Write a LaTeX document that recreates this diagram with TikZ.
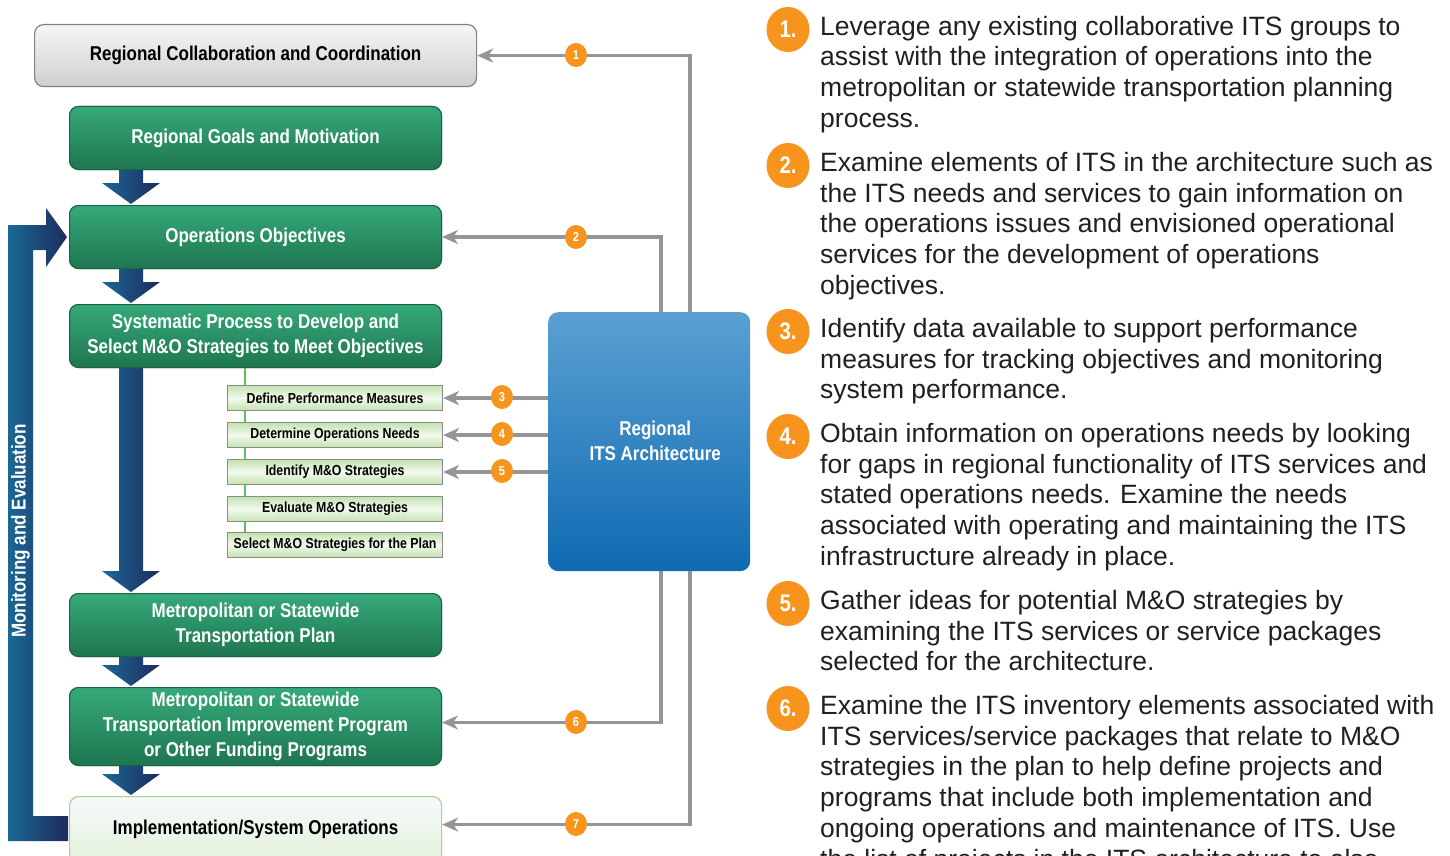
\documentclass[tikz,border=0pt]{standalone}
\usepackage{fontspec}
\setmainfont{Liberation Sans}
\newfontfamily\cond{Liberation Sans}[FakeStretch=0.85]
\usetikzlibrary{arrows.meta,calc,shapes.geometric}
\definecolor{txt}{HTML}{231F20}
\definecolor{greytop}{HTML}{F6F6F7}
\definecolor{greybot}{HTML}{CDCFD1}
\definecolor{greyedge}{HTML}{808285}
\definecolor{grtop}{HTML}{36A97A}
\definecolor{grbot}{HTML}{1E7650}
\definecolor{gredge}{HTML}{1B6443}
\definecolor{subg}{HTML}{C3E2AE}
\definecolor{subw}{HTML}{F2F9EE}
\definecolor{subedge}{HTML}{8A8C8E}
\definecolor{imptop}{HTML}{F5FAFD}
\definecolor{impbot}{HTML}{E2F0D4}
\definecolor{impedge}{HTML}{A9D48C}
\definecolor{bltop}{HTML}{5AA0D2}
\definecolor{blbot}{HTML}{0F6AB2}
\definecolor{conngrey}{HTML}{939598}
\definecolor{orng}{HTML}{F7941D}
\definecolor{arrL}{HTML}{1B6894}
\definecolor{arrR}{HTML}{1E2B5D}
\definecolor{subline}{HTML}{5DC05D}
\newcommand\myblockarrow[2]{%
  \path[blockarr] let \p1=(#1.south), \p2=(#2.north) in
    (119pt,\y1+2pt) -- (143pt,\y1+2pt) -- (143pt,\y2+22pt) -- (160pt,\y2+22pt)
    -- (131pt,\y2+1pt) -- (102pt,\y2+22pt) -- (119pt,\y2+22pt) -- cycle;}
\newcommand\firststrut{\rule{0pt}{22pt}}
\begin{document}
\begin{tikzpicture}[x=1pt,y=-1pt,
  boxfont/.style={font=\cond\bfseries\fontsize{20}{25}\selectfont},
  greybox/.style={boxfont, draw=greyedge, line width=1.2pt, rounded corners=9pt,
     top color=greytop, bottom color=greybot, text=black, anchor=north west,
     minimum width=442pt, minimum height=62pt, inner sep=0pt, align=center},
  greenbox/.style={boxfont, draw=gredge, line width=1pt, rounded corners=9pt,
     top color=grtop, bottom color=grbot, text=white, anchor=north west,
     minimum width=372pt, inner sep=0pt, align=center},
  impbox/.style={boxfont, draw=impedge, line width=1.2pt, rounded corners=9pt,
     top color=imptop, bottom color=impbot, text=black, anchor=north west,
     minimum width=372pt, minimum height=74pt, inner sep=0pt, align=center},
  subbox/.style={font=\cond\bfseries\fontsize{14.5}{17}\selectfont, draw=subedge, line width=1.1pt,
     shading=axis, top color=subg, bottom color=subg, middle color=subw, text=black,
     anchor=north west, minimum width=215pt, minimum height=25pt, inner sep=0pt},
  itsbox/.style={rounded corners=10pt, top color=bltop, bottom color=blbot,
     anchor=north west, minimum width=202pt, minimum height=259pt, inner sep=0pt},
  blockarr/.style={left color=arrL, right color=arrR},
  conn/.style={draw=conngrey, line width=3.5pt,
     -{Stealth[length=16pt,width=14pt,inset=5pt]}},
  badge/.style={ellipse, fill=orng, text=white, inner sep=0pt, minimum width=22pt,
     minimum height=24pt, font=\cond\bfseries\fontsize{13}{13}\selectfont},
  bigbadge/.style={ellipse, fill=orng, text=white, inner sep=0pt, minimum width=43pt,
     minimum height=45pt, font=\cond\bfseries\fontsize{24}{24}\selectfont},
  item/.style={anchor=north west, align=left, text=txt, inner sep=0pt,
     font=\fontsize{26.5}{30.8}\selectfont}
]
\useasboundingbox (0,0) rectangle (1450,856);
\clip (0,0) rectangle (1450,856);
\fill[white] (0,0) rectangle (1450,856);

% ---- left column boxes ----
\path (34,24) node[greybox] (rcc) {Regional Collaboration and Coordination};
\path (69,106) node[greenbox, minimum height=63pt] (rgm) {Regional Goals and Motivation};
\path (69,205) node[greenbox, minimum height=63pt] (oo) {Operations Objectives};
\path (69,304) node[greenbox, minimum height=63pt] (sys) {Systematic Process to Develop and\\Select M\&O Strategies to Meet Objectives};
\path (69,593) node[greenbox, minimum height=63pt] (plan) {Metropolitan or Statewide\\Transportation Plan};
\path (69,687) node[greenbox, minimum height=78pt] (tip) {Metropolitan or Statewide\\Transportation Improvement Program\\or Other Funding Programs};

% green link line behind the sub boxes
\draw[subline, line width=2pt] ([xshift=176pt]sys.south west) -- (245,540);

\path (227,385) node[subbox] (s1) {Define Performance Measures};
\path (227,422) node[subbox] (s2) {Determine Operations Needs};
\path (227,459) node[subbox] (s3) {Identify M\&O Strategies};
\path (227,496) node[subbox] (s4) {Evaluate M\&O Strategies};
\path (227,532) node[subbox] (s5) {Select M\&O Strategies for the Plan};

% ---- monitoring and evaluation loop ----
\path[blockarr] (8,841) -- (68,841) -- (68,816) -- (33,816) -- (33,250) -- (46,250)
   -- (46,267) -- ([xshift=-2pt]oo.west) -- (46,208) -- (46,225) -- (8,225) -- cycle;
\path (69,796) node[impbox] (impl) {\raisebox{13pt}{Implementation/System Operations}};
\node[rotate=90, text=white, font=\cond\bfseries\fontsize{20}{25}\selectfont] (mon) at (20.5,531) {Monitoring and Evaluation};

% ---- block arrows ----
\myblockarrow{rgm}{oo}
\myblockarrow{oo}{sys}
\myblockarrow{sys}{plan}
\myblockarrow{plan}{tip}
\myblockarrow{tip}{impl}

% boxes again over the shaft tops
\path (69,106) node[greenbox, minimum height=63pt] {Regional Goals and Motivation};
\path (69,205) node[greenbox, minimum height=63pt] {Operations Objectives};
\path (69,304) node[greenbox, minimum height=63pt] {Systematic Process to Develop and\\Select M\&O Strategies to Meet Objectives};
\path (69,593) node[greenbox, minimum height=63pt] {Metropolitan or Statewide\\Transportation Plan};
\path (69,687) node[greenbox, minimum height=78pt] {Metropolitan or Statewide\\Transportation Improvement Program\\or Other Funding Programs};

% ---- regional ITS architecture ----
\path (548,312) node[itsbox] (its) {};
\node[boxfont, text=white, align=center] (itslabel) at ([xshift=6pt,yshift=1pt]its.center) {Regional\\ITS Architecture};

% ---- connectors ----
\draw[conn] ([xshift=41pt]its.north) |- (rcc.east);
\draw[conn] ([xshift=12pt]its.north) |- (oo.east);
\draw[conn] (its.west |- s1.east) -- (s1.east);
\draw[conn] (its.west |- s2.east) -- (s2.east);
\draw[conn] (its.west |- s3.east) -- (s3.east);
\draw[conn] ([xshift=12pt]its.south) |- ([yshift=4pt]tip.east);
\draw[conn] ([xshift=41pt]its.south) |- ([yshift=9pt]impl.east);

\node[badge] (b1) at (576,55) {1};
\node[badge] (b2) at (576,237) {2};
\node[badge] (b3) at (502,397) {3};
\node[badge] (b4) at (502,434) {4};
\node[badge] (b5) at (502,471) {5};
\node[badge] (b6) at (576,722) {6};
\node[badge] (b7) at (576,824) {7};

% ---- right-hand notes ----
\node[bigbadge] (n1) at (788,29.5) {1.};
\node[item] (t1) at (820,13) {\firststrut Leverage any existing collaborative ITS groups to\\assist with the integration of operations into the\\metropolitan or statewide transportation planning\\process.};
\node[bigbadge] (n2) at (788,165.5) {2.};
\node[item] (t2) at (820,149) {\firststrut Examine elements of ITS in the architecture such as\\the ITS needs and services to gain information on\\the operations issues and envisioned operational\\services for the development of operations\\objectives.};
\node[bigbadge] (n3) at (788,331.5) {3.};
\node[item] (t3) at (820,315) {\firststrut Identify data available to support performance\\measures for tracking objectives and monitoring\\system performance.};
\node[bigbadge] (n4) at (788,436.5) {4.};
\node[item] (t4) at (820,420) {\firststrut Obtain information on operations needs by looking\\for gaps in regional functionality of ITS services and\\stated operations needs. Examine the needs\\associated with operating and maintaining the ITS\\infrastructure already in place.};
\node[bigbadge] (n5) at (788,603.5) {5.};
\node[item] (t5) at (820,587) {\firststrut Gather ideas for potential M\&O strategies by\\examining the ITS services or service packages\\selected for the architecture.};
\node[bigbadge] (n6) at (788,708.5) {6.};
\node[item] (t6) at (820,692) {\firststrut Examine the ITS inventory elements associated with\\ITS services/service packages that relate to M\&O\\strategies in the plan to help define projects and\\programs that include both implementation and\\ongoing operations and maintenance of ITS. Use\\the list of projects in the ITS architecture to also};
\end{tikzpicture}
\end{document}
